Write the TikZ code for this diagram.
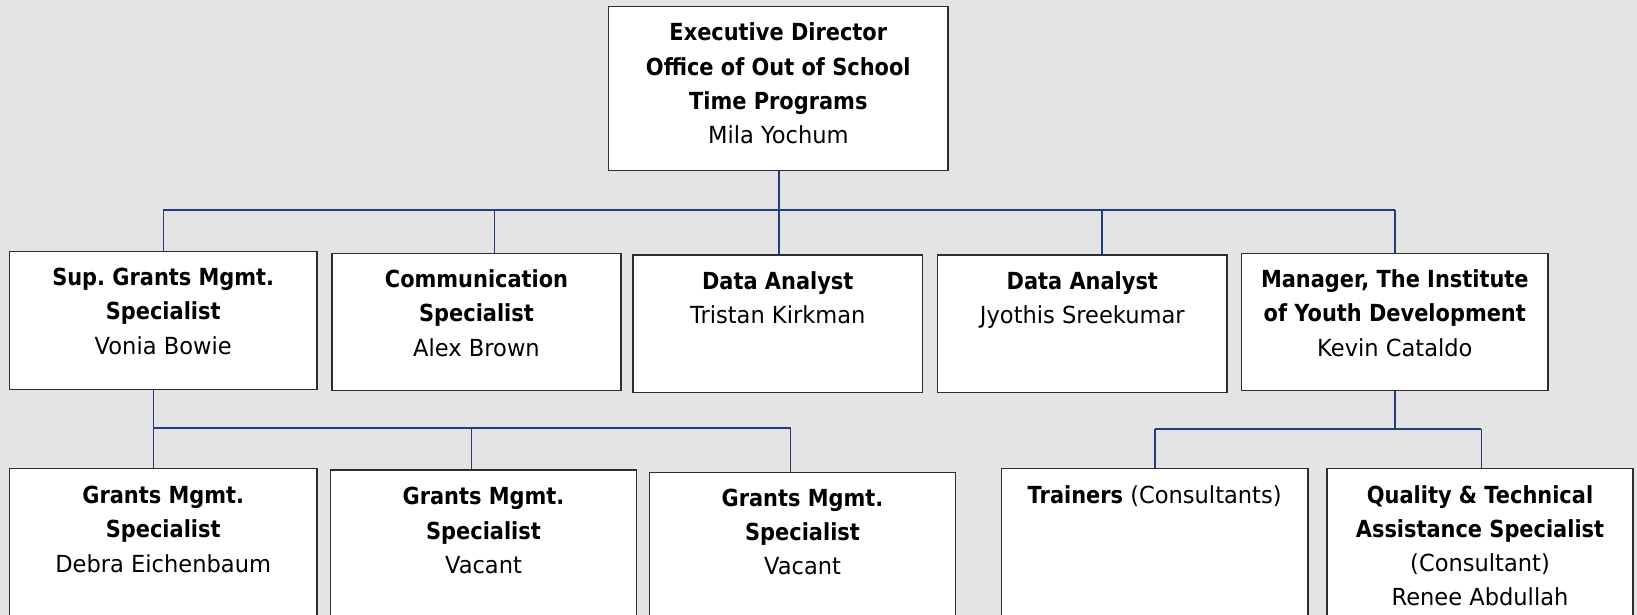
\documentclass[tikz,border=0pt]{standalone}
\usepackage{fontspec}
\setmainfont{DejaVu Sans}[FakeStretch=0.96, BoldFeatures={FakeStretch=0.89}]
\frenchspacing
\definecolor{bgc}{RGB}{228,228,228}
\definecolor{conn}{RGB}{35,60,125}
\definecolor{bord}{RGB}{45,45,45}
\tikzset{
  box/.style={draw=bord, fill=white, line width=1.5pt, rectangle, inner sep=0pt},
  txt/.style={align=center, inner sep=0pt, anchor=north, font=\fontsize{23.5}{34.3}\selectfont},
  link/.style={draw=conn, line width=1.1pt}
}
\begin{document}
\begin{tikzpicture}[x=1pt,y=-1pt]
\clip (0,0) rectangle (1637,615);
\fill[bgc] (0,0) rectangle (1637,615);

% boxes
\node[box, minimum width=339.4pt, minimum height=164pt] (top) at (778.3,88.5) {};
\node[box, minimum width=307.6pt, minimum height=137.6pt] (r2a) at (163.2,320.5) {};
\node[box, minimum width=289pt, minimum height=137.4pt] (r2b) at (476.5,322) {};
\node[box, minimum width=289.5pt, minimum height=137.7pt] (r2c) at (777.75,323.85) {};
\node[box, minimum width=289.4pt, minimum height=137.7pt] (r2d) at (1082.3,323.85) {};
\node[box, minimum width=306.4pt, minimum height=137.4pt] (r2e) at (1394.8,322) {};
\node[box, minimum width=307.6pt, minimum height=200pt] (r3a) at (163.2,568.7) {};
\node[box, minimum width=306pt, minimum height=200pt] (r3b) at (483.5,570) {};
\node[box, minimum width=305.8pt, minimum height=200pt] (r3c) at (802.5,572.3) {};
\node[box, minimum width=306.7pt, minimum height=200pt] (r3d) at (1154.65,568.7) {};
\node[box, minimum width=306pt, minimum height=200pt] (r3e) at (1480,568.7) {};

% texts
\node[txt] (ttop) at ([yshift=-17pt]top.north) {\textbf{Executive Director}\\\textbf{Office of Out of School}\\\textbf{Time Programs}\\Mila Yochum};
\node[txt] (tr2a) at ([yshift=-17pt]r2a.north) {\textbf{Sup. Grants Mgmt.}\\\textbf{Specialist}\\Vonia Bowie};
\node[txt] (tr2b) at ([yshift=-17pt]r2b.north) {\textbf{Communication}\\\textbf{Specialist}\\Alex Brown};
\node[txt] (tr2c) at ([yshift=-17pt]r2c.north) {\textbf{Data Analyst}\\Tristan Kirkman};
\node[txt] (tr2d) at ([yshift=-17pt]r2d.north) {\textbf{Data Analyst}\\Jyothis Sreekumar};
\node[txt] (tr2e) at ([yshift=-17pt]r2e.north) {\textbf{Manager, The Institute}\\\textbf{of Youth Development}\\Kevin Cataldo};
\node[txt] (tr3a) at ([yshift=-18pt]r3a.north) {\textbf{Grants Mgmt.}\\\textbf{Specialist}\\Debra Eichenbaum};
\node[txt] (tr3b) at ([yshift=-18pt]r3b.north) {\textbf{Grants Mgmt.}\\\textbf{Specialist}\\Vacant};
\node[txt] (tr3c) at ([yshift=-17pt]r3c.north) {\textbf{Grants Mgmt.}\\\textbf{Specialist}\\Vacant};
\node[txt] (tr3d) at ([yshift=-17pt]r3d.north) {\textbf{Trainers} (Consultants)};
\node[txt] (tr3e) at ([yshift=-17pt]r3e.north) {\textbf{Quality \& Technical}\\\textbf{Assistance Specialist}\\(Consultant)\\Renee Abdullah};

% bus coordinates
\coordinate (b1) at (779,210);
\coordinate (b1a) at (163.2,210);
\coordinate (b1b) at (494.8,210);
\coordinate (b1d) at (1102,210);
\coordinate (b1e) at (1395,210);
\coordinate (b2) at (153.8,428);
\coordinate (b2b) at (471.8,428);
\coordinate (b2c) at (790.8,428);
\coordinate (b3) at (1395,429);
\coordinate (b3d) at (1155,429);
\coordinate (b3e) at (1481.3,429);

% connectors
\draw[link] (top.south -| b1) -- (b1) -- (b1 |- r2c.north);
\draw[link] (b1a) -- (b1e);
\draw[link] (b1a) -- (b1a |- r2a.north);
\draw[link] (b1b) -- (b1b |- r2b.north);
\draw[link] (b1d) -- (b1d |- r2d.north);
\draw[link] (b1e) -- (b1e |- r2e.north);

\draw[link] (r2a.south -| b2) -- (b2) -- (b2 |- r3a.north);
\draw[link] (b2) -- (b2c);
\draw[link] (b2b) -- (b2b |- r3b.north);
\draw[link] (b2c) -- (b2c |- r3c.north);

\draw[link] (r2e.south -| b3) -- (b3);
\draw[link] (b3d) -- (b3e);
\draw[link] (b3d) -- (b3d |- r3d.north);
\draw[link] (b3e) -- (b3e |- r3e.north);
\end{tikzpicture}
\end{document}
